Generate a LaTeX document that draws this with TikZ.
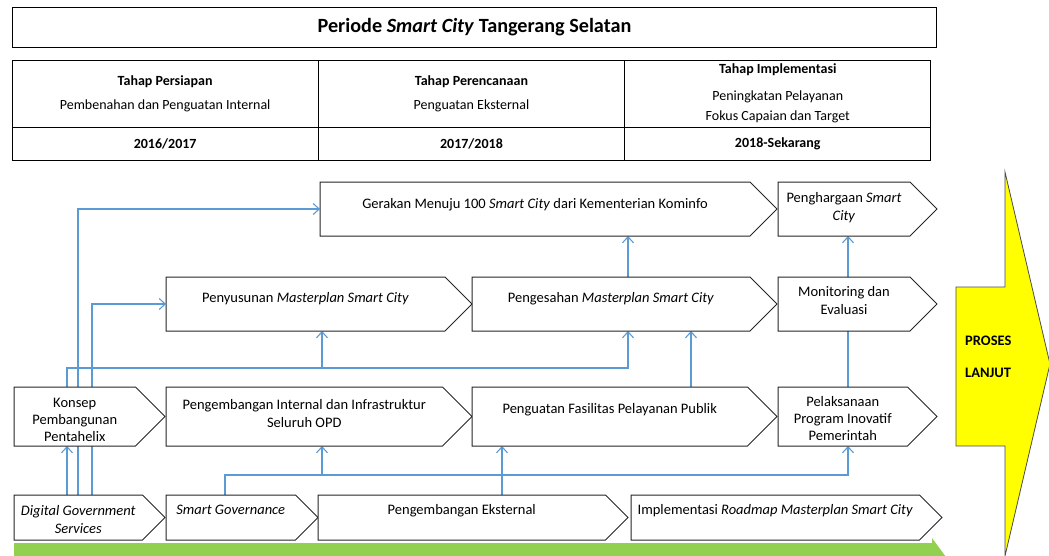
\documentclass[tikz,border=0pt]{standalone}
\usepackage{fontspec}
\setmainfont{Carlito}
\usepackage{xcolor}
\usepackage{tikz}
\usetikzlibrary{positioning}
\usetikzlibrary{backgrounds}
\usetikzlibrary{shapes.symbols}
\usetikzlibrary{arrows.meta}
\definecolor{linkblue}{RGB}{91,155,213}
\definecolor{bargreen}{RGB}{146,208,80}
\definecolor{nextyellow}{RGB}{255,255,0}

\begin{document}
\begin{tikzpicture}[x=1pt, y=-1pt,
titlenode/.style={rectangle, draw=black, line width=1pt, minimum width=924pt, minimum height=40pt, font=\fontsize{20.2}{24}\selectfont\bfseries},
cellnode/.style={rectangle, draw=black, line width=1pt, outer sep=0pt, inner ysep=1pt, minimum width=306.3pt, align=center, font=\fontsize{14}{17}\selectfont},
stagenode/.style={signal, signal to=east, signal from=nowhere, signal pointer angle=90, draw=black!85, line width=1pt, fill=white, inner ysep=0pt, outer sep=0pt, text height=11pt, align=center, font=\fontsize{14.5}{18}\selectfont},
linkline/.style={draw=linkblue, line width=1.1pt, -{Straight Barb[length=6pt,width=11pt]}},
plainline/.style={draw=linkblue, line width=1.1pt},
]
\useasboundingbox (0,0) rectangle (1049,555);

%Title and table
\node[titlenode, anchor=north west]		(title)			at (12,7)		{Periode \textit{Smart City} Tangerang Selatan};
\node[cellnode, minimum height=67pt, anchor=north west]	(persiapan)	at (12,60)	{\textbf{Tahap Persiapan}\\[7pt]Pembenahan dan Penguatan Internal};
\node[cellnode, minimum height=67pt]	(perencanaan)	[right=0pt of persiapan]	{\textbf{Tahap Perencanaan}\\[7pt]Penguatan Eksternal};
\node[cellnode, minimum height=67pt]	(implementasi)	[right=0pt of perencanaan]	{\textbf{Tahap Implementasi}\\[10pt]Peningkatan Pelayanan\\[3pt]Fokus Capaian dan Target};
\node[cellnode, minimum height=33pt]	(tahunA)		[below=0pt of persiapan]	{\textbf{2016/2017}};
\node[cellnode, minimum height=33pt]	(tahunB)		[below=0pt of perencanaan]	{\textbf{2017/2018}};
\node[cellnode, minimum height=33pt]	(tahunC)		[below=0pt of implementasi]	{\textbf{2018-Sekarang}};

%Stages
\node[stagenode, minimum width=457pt, minimum height=54pt, text depth=12.2pt, anchor=west]	(gerakan)		at (320,209)		{Gerakan Menuju 100 \textit{Smart City} dari Kementerian Kominfo};
\node[stagenode, minimum width=159pt, minimum height=54pt, text height=26.8pt, text depth=4pt]	(penghargaan)	[right=1pt of gerakan]		{Penghargaan \textit{Smart}\\\textit{City}};
\node[stagenode, minimum width=306pt, minimum height=54pt, text depth=14.2pt, anchor=west]	(penyusunan)	at (166,304)		{Penyusunan \textit{Masterplan Smart City}};
\node[stagenode, minimum width=305pt, minimum height=54pt, text depth=14.2pt]	(pengesahan)	[right=0pt of penyusunan]	{Pengesahan \textit{Masterplan Smart City}};
\node[stagenode, minimum width=159pt, minimum height=54pt, text height=24.8pt, text depth=4pt]	(monitoring)	[right=1pt of pengesahan]	{Monitoring dan\\Evaluasi};
\node[stagenode, minimum width=151pt, minimum height=59pt, text height=53pt, text depth=4pt, font=\fontsize{14.5}{17}\selectfont, anchor=west]	(konsep)	at (14,416.5)	{Konsep\\Pembangunan\\Pentahelix};
\node[stagenode, minimum width=306pt, minimum height=59pt, text height=25.8pt, text depth=4pt]	(pengint)		[right=1pt of konsep]		{Pengembangan Internal dan Infrastruktur\\Seluruh OPD};
\node[stagenode, minimum width=305pt, minimum height=59pt, text depth=17.2pt]	(penguatan)		[right=0pt of pengint]		{Penguatan Fasilitas Pelayanan Publik};
\node[stagenode, minimum width=159pt, minimum height=59pt, text height=51.8pt, text depth=4pt, font=\fontsize{14.5}{17}\selectfont]	(pelaksanaan)	[right=1pt of penguatan]	{Pelaksanaan\\Program Inovatif\\Pemerintah};
\node[stagenode, minimum width=151pt, minimum height=45pt, text height=35.8pt, text depth=4pt, anchor=west]	(dgs)	at (14,517.5)	{\textit{Digital Government}\\\textit{Services}};
\node[stagenode, minimum width=152pt, minimum height=45pt, text depth=17.2pt]	(smartgov)		[right=1pt of dgs]			{\textit{Smart Governance}};
\node[stagenode, minimum width=310pt, minimum height=45pt, text depth=17.2pt]	(pengeks)		[right=0pt of smartgov]		{Pengembangan Eksternal};
\node[stagenode, minimum width=311pt, minimum height=45pt, text depth=17.2pt]	(roadmap)		[right=3pt of pengeks]		{Implementasi \textit{Roadmap Masterplan Smart City}};

%Next process
\filldraw[fill=nextyellow, draw=black!70, line width=0.8pt] (956,287) -- (1005,287) -- (1005,172) -- (1050,364) -- (1005,556) -- (1005,446) -- (956,446) -- cycle;
\node[font=\fontsize{14.5}{18}\selectfont\bfseries, align=left, inner sep=0pt, anchor=base west]	(lanjut)	at (965,377)	{PROSES\\[14pt]LANJUT};
\fill[bargreen] (14,543) -- (932,543) -- (932,538) -- (946,557) -- (932,576) -- (932,571) -- (14,571) -- cycle;

%Lines
\coordinate (trackA) at (67,0);
\coordinate (trackB) at (78,0);
\coordinate (trackC) at (92,0);
\coordinate (colpen) at (322,0);
\coordinate (coleks) at (502,0);
\coordinate (colpeg) at (628,0);
\coordinate (colfas) at (691,0);
\coordinate (colmon) at (848,0);
\coordinate (busup) at (67,368);
\coordinate (buslow) at (225,475);
\begin{scope}[on background layer]
\draw[linkline] (dgs.north -| trackA) -- (konsep.south -| trackA);
\draw[linkline] (dgs.north -| trackB) |- (gerakan.west);
\draw[linkline] (dgs.north -| trackC) |- (penyusunan.west);
\draw[linkline] (konsep.north -| trackA) -- (busup) -| (pengesahan.south -| colpeg);
\draw[linkline] (busup -| colpen) -- (penyusunan.south -| colpen);
\draw[linkline] (pengesahan.north -| colpeg) -- (gerakan.south -| colpeg);
\draw[linkline] (penguatan.north -| colfas) -- (pengesahan.south -| colfas);
\draw[plainline] (pelaksanaan.north -| colmon) -- (monitoring.south -| colmon);
\draw[linkline] (monitoring.north -| colmon) -- (penghargaan.south -| colmon);
\draw[linkline] (smartgov.north -| buslow) -- (buslow) -| (pelaksanaan.south -| colmon);
\draw[linkline] (buslow -| colpen) -- (pengint.south -| colpen);
\draw[linkline] (pengeks.north -| coleks) -- (penguatan.south -| coleks);
\end{scope}
\end{tikzpicture}
\end{document}
